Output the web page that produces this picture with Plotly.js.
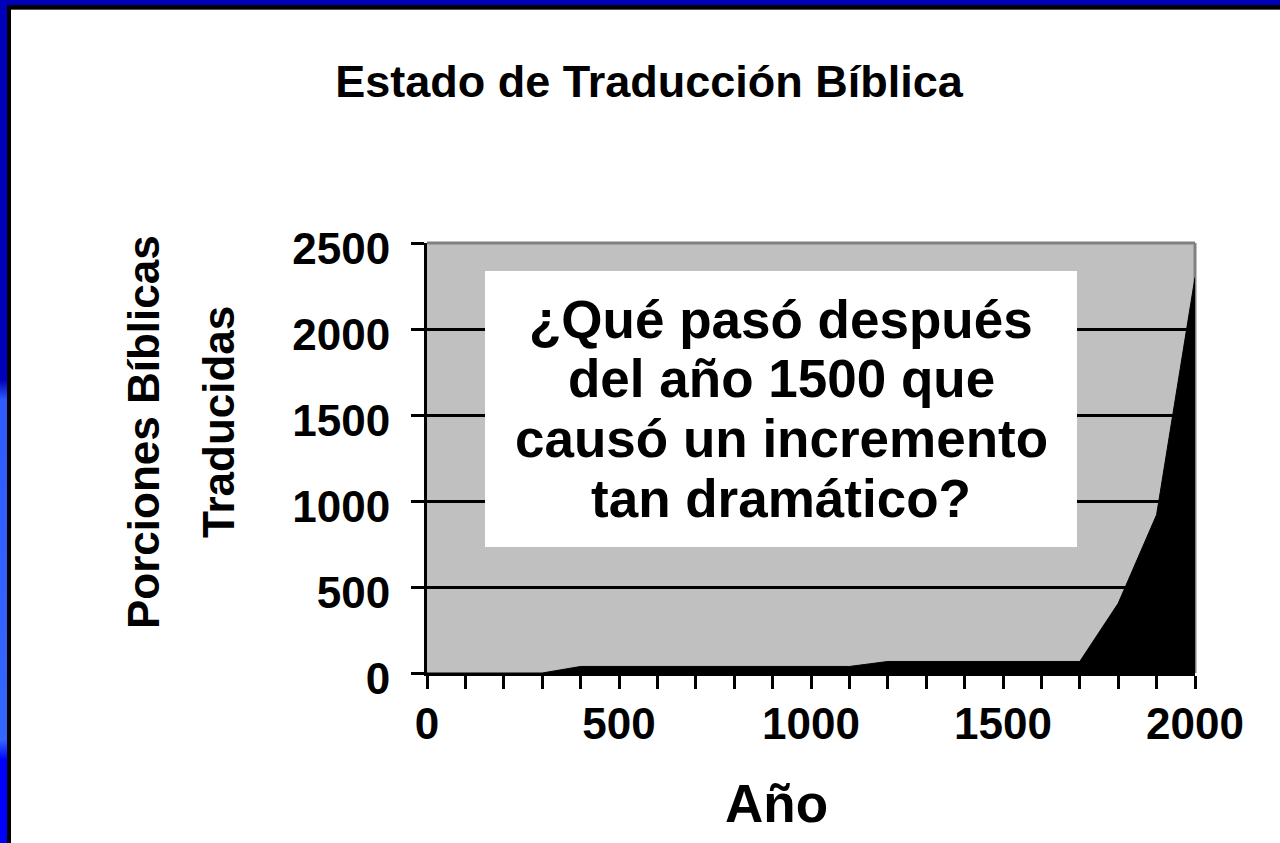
<!DOCTYPE html>
<html>
<head>
<meta charset="utf-8">
<script src="https://cdn.plot.ly/plotly-3.0.1.min.js"></script>
<style>
  html, body { margin: 0; padding: 0; background: #ffffff; }
  #wrap { position: relative; width: 1280px; height: 843px; overflow: hidden; background: #ffffff; }
  #chart { position: absolute; left: 0; top: 0; width: 1280px; height: 843px; }
  .frame { position: absolute; pointer-events: none; }
</style>
</head>
<body>
<div id="wrap">
  <div id="chart"></div>
  <div class="frame" style="left:0;top:0;width:1280px;height:5px;background:#0000B8;"></div>
  <div class="frame" style="left:0;top:0;width:7px;height:843px;background:linear-gradient(to bottom,#0000BB 0px,#0000BB 380px,#2F5BFF 400px,#3366FF 740px,#0000FF 760px,#0000FF 843px);"></div>
  <div class="frame" style="left:7px;top:5px;width:1273px;height:4px;background:#000000;"></div>
  <div class="frame" style="left:11px;top:9px;width:1269px;height:1px;background:#555555;"></div>
  <div class="frame" style="left:7px;top:5px;width:4px;height:838px;background:#000000;"></div>
</div>
<script>
// ---- data ----
const years = [0, 100, 200, 300, 400, 500, 600, 700, 800, 900, 1000,
               1100, 1200, 1300, 1400, 1500, 1600, 1700, 1800, 1900, 2000];
const porciones = [0, 0, 0, 0, 38, 38, 38, 38, 38, 38, 38,
                   38, 67, 67, 67, 67, 67, 67, 405, 920, 2300];
const xTickVals = [0, 500, 1000, 1500, 2000];
const xTickText = ['0', '500', '1000', '1500', '2000'];
const yTickVals = [0, 500, 1000, 1500, 2000, 2500];
const yTickText = ['0', '500', '1000', '1500', '2000', '2500'];
const chartTitle = 'Estado de Traducción Bíblica';
const xTitle = 'Año';
const yTitleLines = ['Porciones Bíblicas', 'Traducidas'];
const noteLines = ['¿Qué pasó después', 'del año 1500 que', 'causó un incremento', 'tan dramático?'];

// ---- layout geometry (pixels) ----
const W = 1280, H = 843;
const L = 427, R = 1195, T = 243, B = 673;
function px(x) { return (x - L) / (R - L); }
function py(y) { return (B - y) / (B - T); }
const FONT = 'Liberation Sans, Arial, Helvetica, sans-serif';

const trace = {
  x: years,
  y: porciones,
  type: 'scatter',
  mode: 'lines',
  fill: 'tozeroy',
  fillcolor: '#000000',
  line: { color: '#000000', width: 1 },
  hoverinfo: 'x+y'
};

const annotations = [];
yTitleLines.forEach((t, i) => {
  annotations.push({
    text: '<b>' + t + '</b>', xref: 'paper', yref: 'paper',
    x: px([143, 218][i]), y: py([432, 422][i]),
    xanchor: 'center', yanchor: 'middle', textangle: -90, showarrow: false,
    font: { family: FONT, size: 44, color: '#000000' }
  });
});
const noteCenters = [319, 378, 438, 498];
noteLines.forEach((t, i) => {
  annotations.push({
    text: '<b>' + t + '</b>', xref: 'paper', yref: 'paper',
    x: px(781), y: py(noteCenters[i]),
    xanchor: 'center', yanchor: 'middle', showarrow: false,
    font: { family: FONT, size: 53, color: '#000000' }
  });
});
annotations.push({
  text: '<b>' + xTitle + '</b>', xref: 'paper', yref: 'paper',
  x: px(776), y: py(803),
  xanchor: 'center', yanchor: 'middle', showarrow: false,
  font: { family: FONT, size: 53, color: '#000000' }
});

const shapes = [
  // right border (hidden under black area)
  { type: 'line', xref: 'paper', yref: 'paper', x0: 1, x1: 1, y0: 0, y1: 1,
    line: { color: '#808080', width: 3 }, layer: 'below' },
  // white note box
  { type: 'rect', xref: 'paper', yref: 'paper', x0: px(485), x1: px(1077), y0: py(547), y1: py(271),
    fillcolor: '#ffffff', line: { width: 0 }, layer: 'above' },
  // top border
  { type: 'line', xref: 'paper', yref: 'paper', x0: 0, x1: 1, y0: 1, y1: 1,
    line: { color: '#808080', width: 3 }, layer: 'above' }
];

const layout = {
  width: W, height: H,
  margin: { l: L, r: W - R, t: T, b: H - B, pad: 0 },
  paper_bgcolor: '#ffffff',
  plot_bgcolor: '#C0C0C0',
  showlegend: false,
  title: {
    text: '<b>' + chartTitle + '</b>',
    font: { family: FONT, size: 45, color: '#000000' },
    x: 649 / W, xanchor: 'center', xref: 'container',
    y: 1 - 81 / H, yanchor: 'middle', yref: 'container'
  },
  xaxis: {
    range: [0, 2000],
    tickmode: 'array', tickvals: xTickVals, ticktext: xTickText,
    ticks: 'outside', ticklen: 13, tickwidth: 3, tickcolor: '#000000',
    minor: { dtick: 100, ticks: 'outside', ticklen: 13, tickwidth: 3, tickcolor: '#000000', showgrid: false },
    showline: true, linecolor: '#000000', linewidth: 3,
    showgrid: false, zeroline: false,
    tickfont: { family: FONT, size: 44, color: '#000000', weight: 'bold' },
    ticklabelstandoff: -3,
    fixedrange: true
  },
  yaxis: {
    range: [0, 2500],
    tickmode: 'array', tickvals: yTickVals, ticktext: yTickText,
    ticks: 'outside', ticklen: 13, tickwidth: 3, tickcolor: '#000000',
    showline: true, linecolor: '#000000', linewidth: 3,
    showgrid: true, gridcolor: '#000000', gridwidth: 3,
    zeroline: false,
    tickfont: { family: FONT, size: 44, color: '#000000', weight: 'bold' },
    ticklabelstandoff: 12,
    ticklabelshift: 6,
    fixedrange: true
  },
  shapes: shapes,
  annotations: annotations
};

Plotly.newPlot('chart', [trace], layout, { displayModeBar: false, staticPlot: true });
</script>
</body>
</html>
